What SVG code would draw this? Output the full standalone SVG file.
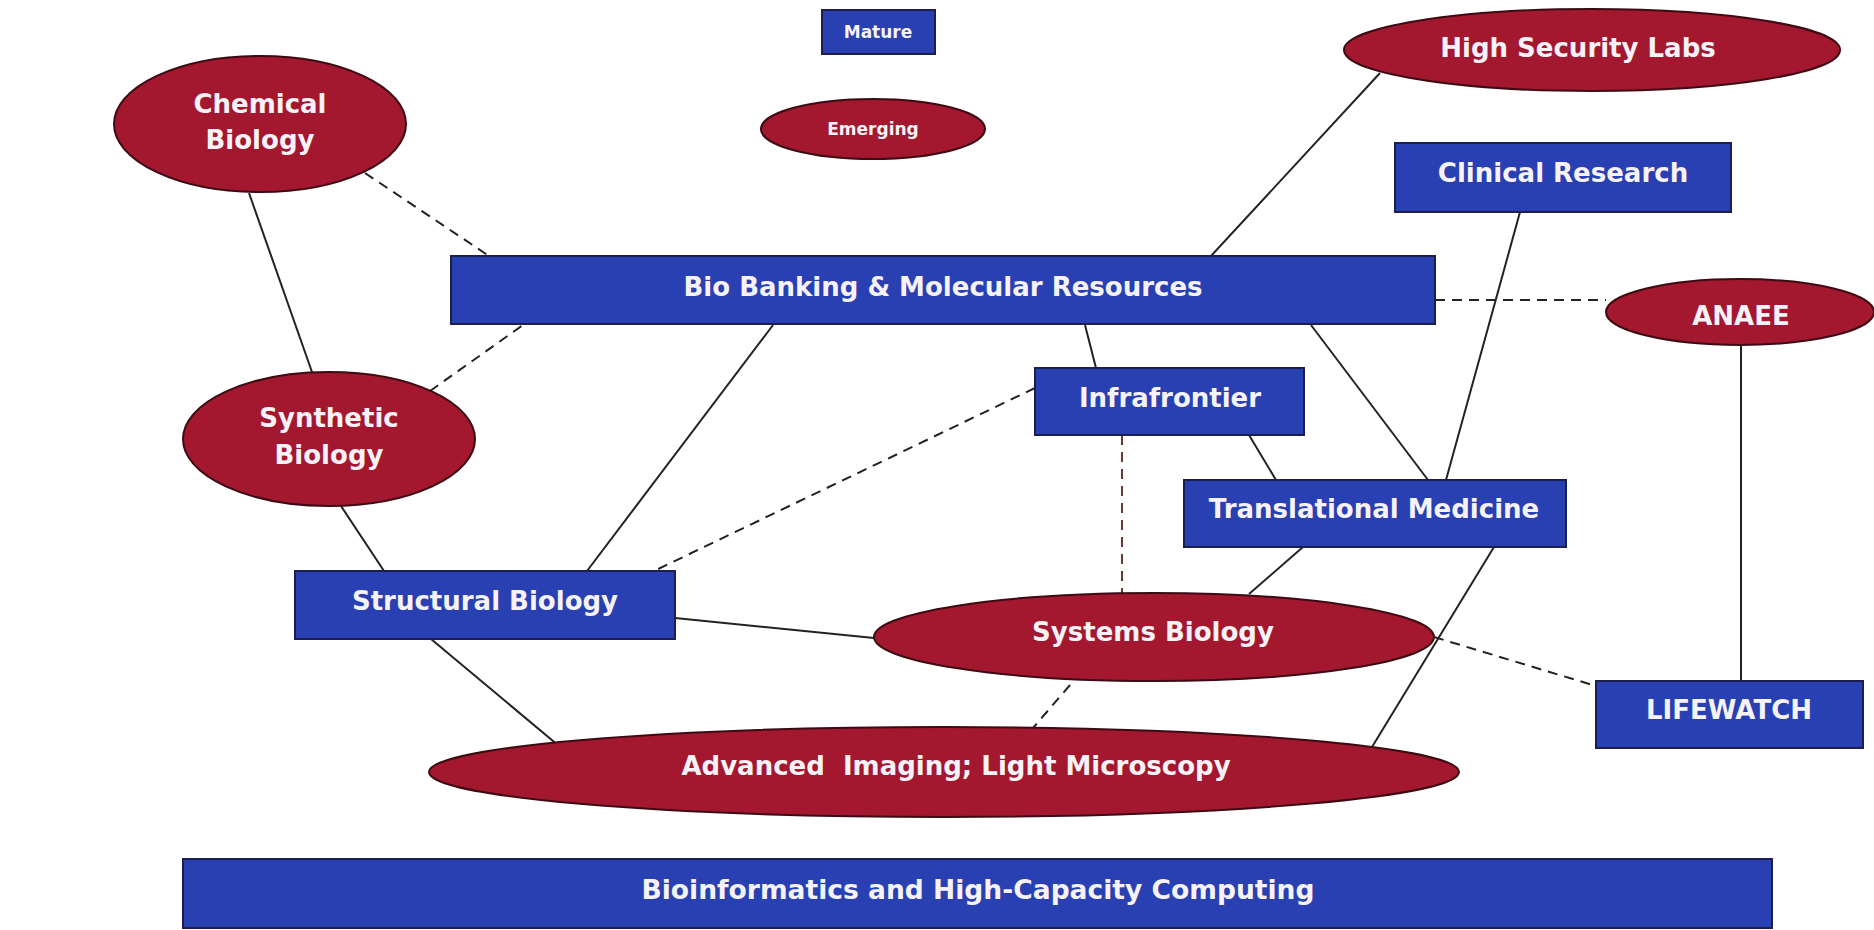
<svg xmlns="http://www.w3.org/2000/svg" width="1874" height="930" viewBox="0 0 1874 930">
<style>
.rect{fill:#2840b2;stroke:#1c1f4e;stroke-width:2}
.ell{fill:#a3172f;stroke:#3d0b14;stroke-width:2}
.t{font-family:"DejaVu Sans","Verdana",sans-serif;font-weight:bold;fill:#f6f2f8;text-anchor:middle;dominant-baseline:central;font-size:26px}
.s{font-size:17px}
.ln{stroke:#222;stroke-width:2;fill:none}
.dl{stroke:#222;stroke-width:2;fill:none;stroke-dasharray:10 7}
.db{stroke:#6b3a2a;stroke-width:2;fill:none;stroke-dasharray:10 7}
</style>
<rect width="1874" height="930" fill="#ffffff"/>
<g id="connectors">
<line class="ln" x1="249" y1="193" x2="312" y2="372"/>
<line class="dl" x1="365" y1="173" x2="489" y2="256"/>
<line class="dl" x1="430" y1="391" x2="523" y2="325"/>
<line class="ln" x1="341" y1="506" x2="384" y2="571"/>
<line class="ln" x1="773" y1="325" x2="587" y2="571"/>
<line class="ln" x1="1380" y1="73" x2="1211" y2="256"/>
<line class="ln" x1="1085" y1="325" x2="1096" y2="368"/>
<line class="ln" x1="1311" y1="325" x2="1428" y2="480"/>
<line class="ln" x1="1520" y1="212" x2="1446" y2="480"/>
<line class="dl" x1="1435" y1="300" x2="1606" y2="300"/>
<line class="ln" x1="1741" y1="345" x2="1741" y2="681"/>
<line class="ln" x1="1249" y1="435" x2="1276" y2="480"/>
<line class="dl" x1="1035" y1="388" x2="654" y2="571"/>
<line class="db" x1="1122" y1="435" x2="1122" y2="593"/>
<line class="ln" x1="1303" y1="547" x2="1249" y2="594"/>
<line class="ln" x1="675" y1="618" x2="874" y2="638"/>
<line class="ln" x1="431" y1="639" x2="559" y2="746"/>
<line class="dl" x1="1070" y1="685" x2="1033" y2="728"/>
<line class="ln" x1="1494" y1="547" x2="1372" y2="747"/>
<line class="dl" x1="1434" y1="637" x2="1596" y2="686"/>
</g>
<g id="mature"><rect class="rect" x="822" y="10" width="113" height="44"/><text class="t s" x="878" y="32">Mature</text></g>
<g id="emerging"><ellipse class="ell" cx="873" cy="129" rx="112" ry="30"/><text class="t s" x="873" y="129">Emerging</text></g>
<g id="chemical-biology"><ellipse class="ell" cx="260" cy="124" rx="146" ry="68"/><text class="t" x="260" y="104">Chemical</text><text class="t" x="260" y="140">Biology</text></g>
<g id="high-security-labs"><ellipse class="ell" cx="1592" cy="50" rx="248" ry="41"/><text class="t" x="1578" y="48">High Security Labs</text></g>
<g id="clinical-research"><rect class="rect" x="1395" y="143" width="336" height="69"/><text class="t" x="1563" y="173">Clinical Research</text></g>
<g id="bio-banking"><rect class="rect" x="451" y="256" width="984" height="68"/><text class="t" x="943" y="287">Bio Banking &amp; Molecular Resources</text></g>
<g id="anaee"><ellipse class="ell" cx="1740" cy="312" rx="134" ry="33"/><text class="t" x="1741" y="316">ANAEE</text></g>
<g id="synthetic-biology"><ellipse class="ell" cx="329" cy="439" rx="146" ry="67"/><text class="t" x="329" y="418">Synthetic</text><text class="t" x="329" y="455">Biology</text></g>
<g id="infrafrontier"><rect class="rect" x="1035" y="368" width="269" height="67"/><text class="t" x="1170" y="398">Infrafrontier</text></g>
<g id="translational-medicine"><rect class="rect" x="1184" y="480" width="382" height="67"/><text class="t" x="1374" y="509">Translational Medicine</text></g>
<g id="structural-biology"><rect class="rect" x="295" y="571" width="380" height="68"/><text class="t" x="485" y="601">Structural Biology</text></g>
<g id="systems-biology"><ellipse class="ell" cx="1154" cy="637" rx="280" ry="44"/><text class="t" x="1153" y="632">Systems Biology</text></g>
<g id="lifewatch"><rect class="rect" x="1596" y="681" width="267" height="67"/><text class="t" x="1729" y="710">LIFEWATCH</text></g>
<g id="advanced-imaging"><ellipse class="ell" cx="944" cy="772" rx="515" ry="45"/><text class="t" x="956" y="766" xml:space="preserve">Advanced  Imaging; Light Microscopy</text></g>
<g id="bioinformatics"><rect class="rect" x="183" y="859" width="1589" height="69"/><text class="t" x="978" y="890" textLength="673" lengthAdjust="spacingAndGlyphs">Bioinformatics and High-Capacity Computing</text></g>
</svg>
